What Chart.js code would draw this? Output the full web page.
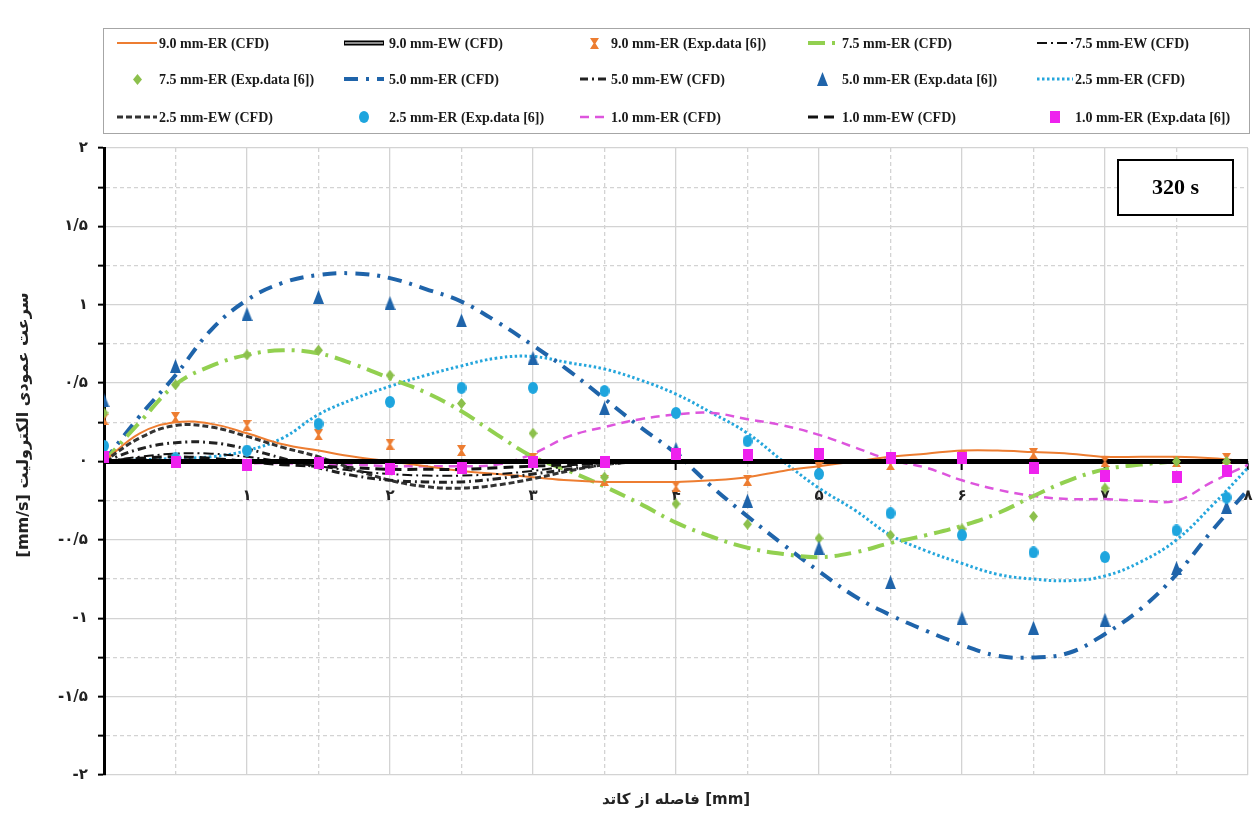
<!DOCTYPE html>
<html>
<head>
<meta charset="utf-8">
<script src="https://cdn.jsdelivr.net/npm/chart.js@4.4.0/dist/chart.umd.min.js"></script>
<style>
  html, body { margin: 0; padding: 0; background: #ffffff; }
  #wrap { width: 1255px; height: 813px; position: relative; }
</style>
</head>
<body>
<div id="wrap"><canvas id="chart" width="1255" height="813"></canvas></div>
<script>
// Distance from the cathode [mm] for the CFD profiles and for the measured points
const CFD_X = [0, 0.25, 0.5, 0.75, 1, 1.25, 1.5, 1.75, 2, 2.25, 2.5, 2.75, 3, 3.25, 3.5, 3.75, 4,
               4.25, 4.5, 4.75, 5, 5.25, 5.5, 5.75, 6, 6.25, 6.5, 6.75, 7, 7.25, 7.5, 7.75, 8];
const EXP_X = [0, 0.5, 1, 1.5, 2, 2.5, 3, 3.5, 4, 4.5, 5, 5.5, 6, 6.5, 7, 7.5, 7.85];

// Vertical electrolyte velocity [mm/s], CFD, electrode ER
const ER90_CFD = [0, 0.18, 0.25, 0.24, 0.18, 0.11, 0.07, 0.03, 0.0, -0.03, -0.06, -0.08, -0.10, -0.12, -0.13, -0.13, -0.13,
                  -0.12, -0.10, -0.06, -0.03, 0.0, 0.03, 0.05, 0.07, 0.07, 0.06, 0.05, 0.03, 0.03, 0.03, 0.02, 0.0];
const ER75_CFD = [0, 0.25, 0.49, 0.61, 0.68, 0.71, 0.69, 0.62, 0.53, 0.44, 0.32, 0.17, 0.03, -0.06, -0.16, -0.27, -0.39,
                  -0.48, -0.55, -0.59, -0.61, -0.58, -0.52, -0.47, -0.41, -0.33, -0.22, -0.12, -0.05, -0.02, 0.0, 0.0, 0.0];
const ER50_CFD = [0, 0.29, 0.55, 0.84, 1.03, 1.14, 1.19, 1.20, 1.17, 1.10, 1.02, 0.89, 0.74, 0.58, 0.40, 0.22, 0.05,
                  -0.16, -0.35, -0.53, -0.70, -0.86, -0.98, -1.08, -1.17, -1.24, -1.25, -1.22, -1.10, -0.94, -0.72, -0.44, -0.18];
const ER25_CFD = [0, 0.01, 0.02, 0.03, 0.07, 0.15, 0.30, 0.40, 0.48, 0.55, 0.61, 0.66, 0.67, 0.63, 0.59, 0.52, 0.43,
                  0.31, 0.18, 0.0, -0.17, -0.31, -0.47, -0.57, -0.65, -0.72, -0.75, -0.76, -0.73, -0.64, -0.50, -0.28, -0.04];
const ER10_CFD = [0, 0.0, 0.01, 0.0, -0.01, -0.01, -0.02, -0.02, -0.03, -0.03, -0.03, -0.02, 0.05, 0.16, 0.22, 0.27, 0.30,
                  0.31, 0.27, 0.23, 0.17, 0.09, 0.01, -0.04, -0.12, -0.18, -0.22, -0.24, -0.24, -0.25, -0.25, -0.13, -0.02];

// Vertical electrolyte velocity [mm/s], CFD, electrode EW
const EW90_CFD = [0, 0, 0, 0, 0, 0, 0, 0, 0, 0, 0, 0, 0, 0, 0, 0, 0,
                  0, 0, 0, 0, 0, 0, 0, 0, 0, 0, 0, 0, 0, 0, 0, 0];
const EW75_CFD = [0, 0.03, 0.05, 0.05, 0.03, 0.0, -0.03, -0.06, -0.08, -0.09, -0.09, -0.08, -0.06, -0.03, -0.01, 0, 0,
                  0, 0, 0, 0, 0, 0, 0, 0, 0, 0, 0, 0, 0, 0, 0, 0];
const EW50_CFD = [0, 0.08, 0.12, 0.12, 0.08, 0.02, -0.04, -0.09, -0.12, -0.13, -0.13, -0.11, -0.08, -0.05, -0.02, 0, 0,
                  0, 0, 0, 0, 0, 0, 0, 0, 0, 0, 0, 0, 0, 0, 0, 0];
const EW25_CFD = [0, 0.15, 0.23, 0.22, 0.16, 0.09, 0.03, -0.05, -0.12, -0.16, -0.17, -0.15, -0.11, -0.06, -0.02, 0, 0,
                  0, 0, 0, 0, 0, 0, 0, 0, 0, 0, 0, 0, 0, 0, 0, 0];
const EW10_CFD = [0, 0.02, 0.03, 0.02, 0.0, -0.02, -0.03, -0.04, -0.05, -0.05, -0.05, -0.04, -0.03, -0.02, -0.01, 0, 0,
                  0, 0, 0, 0, 0, 0, 0, 0, 0, 0, 0, 0, 0, 0, 0, 0];

// Measured vertical velocity [mm/s], electrode ER (Exp.data [6])
const ER90_EXP = [0.27, 0.28, 0.23, 0.17, 0.11, 0.07, 0.02, -0.12, -0.16, -0.12, -0.04, -0.02, 0.03, 0.05, 0.0, 0.0, 0.02];
const ER75_EXP = [0.31, 0.49, 0.68, 0.71, 0.55, 0.37, 0.18, -0.10, -0.27, -0.40, -0.49, -0.47, -0.43, -0.35, -0.17, 0.0, 0.0];
const ER50_EXP = [0.39, 0.61, 0.94, 1.05, 1.01, 0.90, 0.66, 0.34, 0.08, -0.25, -0.55, -0.77, -1.0, -1.06, -1.01, -0.68, -0.29];
const ER25_EXP = [0.10, 0.02, 0.07, 0.24, 0.38, 0.47, 0.47, 0.45, 0.31, 0.13, -0.08, -0.33, -0.47, -0.58, -0.61, -0.44, -0.23];
const ER10_EXP = [0.03, 0.0, -0.02, -0.01, -0.05, -0.04, 0.0, 0.0, 0.05, 0.04, 0.05, 0.02, 0.02, -0.04, -0.09, -0.10, -0.06];

// Legend names, in legend order (row by row)
const SERIES_NAMES = [
  '9.0 mm-ER (CFD)', '9.0 mm-EW (CFD)', '9.0 mm-ER (Exp.data [6])', '7.5 mm-ER (CFD)', '7.5 mm-EW (CFD)',
  '7.5 mm-ER (Exp.data [6])', '5.0 mm-ER (CFD)', '5.0 mm-EW (CFD)', '5.0 mm-ER (Exp.data [6])', '2.5 mm-ER (CFD)',
  '2.5 mm-EW (CFD)', '2.5 mm-ER (Exp.data [6])', '1.0 mm-ER (CFD)', '1.0 mm-EW (CFD)', '1.0 mm-ER (Exp.data [6])'
];

// Axis tick labels
const X_TICK_LABELS = ['۱', '۲', '۳', '۴', '۵', '۶', '۷', '۸'];
const Y_TICK_LABELS = ['-۲', '-۱/۵', '-۱', '-۰/۵', '۰', '۰/۵', '۱', '۱/۵', '۲'];

const X_TITLE = 'فاصله از کاتد [mm]';
const Y_TITLE = 'سرعت عمودی الکترولیت [mm/s]';
const TIME_LABEL = '320 s';

// ---------- marker images ----------
function markerCanvas(w, h, color, draw) {
  const c = document.createElement('canvas');
  c.width = w; c.height = h;
  const g = c.getContext('2d');
  g.fillStyle = color;
  g.beginPath();
  draw(g, w, h);
  g.fill();
  return c;
}
const HOURGLASS = markerCanvas(9, 11, '#ed7d31', (g, w, h) => {
  g.moveTo(0, 0); g.lineTo(w, 0); g.lineTo(w / 2 + 1, h / 2); g.lineTo(w, h);
  g.lineTo(0, h); g.lineTo(w / 2 - 1, h / 2); g.closePath();
});
const DIAMOND = markerCanvas(9, 11, '#8cc04c', (g, w, h) => {
  g.moveTo(w / 2, 0); g.lineTo(w, h / 2); g.lineTo(w / 2, h); g.lineTo(0, h / 2); g.closePath();
});
const TRIANGLE = markerCanvas(11, 14, '#1f64aa', (g, w, h) => {
  g.moveTo(w / 2, 0); g.lineTo(w, h); g.lineTo(0, h); g.closePath();
});
const ELLIPSE = markerCanvas(10, 12, '#1ea5de', (g, w, h) => {
  g.ellipse(w / 2, h / 2, w / 2, h / 2, 0, 0, Math.PI * 2);
});
const SQUARE = markerCanvas(10, 12, '#ee22ee', (g, w, h) => {
  g.rect(0, 0, w, h);
});

function pts(xs, ys) { return xs.map((x, i) => ({ x: x, y: ys[i] })); }

function cfd(label, ys, color, width, dash, order) {
  return {
    label: label, data: pts(CFD_X, ys), showLine: true, pointRadius: 0, pointHoverRadius: 0,
    borderColor: color, backgroundColor: color, borderWidth: width, borderDash: dash,
    tension: 0.4, fill: false, order: order
  };
}
function exp(label, ys, img, order) {
  return {
    label: label, data: pts(EXP_X, ys), showLine: false, pointStyle: img, pointRadius: 6,
    borderColor: 'rgba(0,0,0,0)', backgroundColor: 'rgba(0,0,0,0)', order: order
  };
}

const datasets = [
  cfd(SERIES_NAMES[0], ER90_CFD, '#ed7d31', 2, [], 12),
  cfd(SERIES_NAMES[1], EW90_CFD, '#000000', 5, [], 10),
  exp(SERIES_NAMES[2], ER90_EXP, HOURGLASS, 5),
  cfd(SERIES_NAMES[3], ER75_CFD, '#92d050', 4, [17, 7, 3, 7], 13),
  cfd(SERIES_NAMES[4], EW75_CFD, '#111111', 2, [10, 4, 2, 4], 11),
  exp(SERIES_NAMES[5], ER75_EXP, DIAMOND, 4),
  cfd(SERIES_NAMES[6], ER50_CFD, '#1f64aa', 4, [14, 8, 3, 8], 14),
  cfd(SERIES_NAMES[7], EW50_CFD, '#222222', 3, [8, 4, 2, 4], 11),
  exp(SERIES_NAMES[8], ER50_EXP, TRIANGLE, 3),
  cfd(SERIES_NAMES[9], ER25_CFD, '#25a6dc', 3, [2.5, 2.5], 14),
  cfd(SERIES_NAMES[10], EW25_CFD, '#333333', 3, [6, 3], 11),
  exp(SERIES_NAMES[11], ER25_EXP, ELLIPSE, 2),
  cfd(SERIES_NAMES[12], ER10_CFD, '#dd55dd', 2.5, [9, 6], 13),
  cfd(SERIES_NAMES[13], EW10_CFD, '#111111', 3, [10, 6], 11),
  exp(SERIES_NAMES[14], ER10_EXP, SQUARE, 1)
];

const isInt = v => Math.abs(v - Math.round(v)) < 1e-6;
const isHalf = v => Math.abs(v * 2 - Math.round(v * 2)) < 1e-6;

// ---------- legend, axis titles and time box ----------
const LEG_COLS = [117, 344, 580, 808, 1037];
const LEG_SAMPLE_W = [40, 40, 28, 28, 36];
const LEG_TEXT_OFF = [42, 45, 31, 34, 38];
const LEG_ROWS = [43, 79, 117];

const decorPlugin = {
  id: 'decor',
  afterDraw(chart) {
    const ctx = chart.ctx;
    ctx.save();
    // legend frame
    ctx.strokeStyle = '#a6a6a6';
    ctx.lineWidth = 1;
    ctx.strokeRect(103.5, 28.5, 1146, 105);
    ctx.font = 'bold 14px "Liberation Serif"';
    ctx.textBaseline = 'middle';
    ctx.textAlign = 'left';
    chart.data.datasets.forEach((ds, i) => {
      const col = i % 5, row = Math.floor(i / 5);
      const x0 = LEG_COLS[col], y = LEG_ROWS[row], w = LEG_SAMPLE_W[col];
      if (ds.showLine) {
        ctx.save();
        ctx.strokeStyle = ds.borderColor;
        ctx.lineWidth = ds.borderWidth;
        ctx.setLineDash(ds.borderDash || []);
        ctx.beginPath(); ctx.moveTo(x0, y); ctx.lineTo(x0 + w, y); ctx.stroke();
        if (i === 1) {
          ctx.strokeStyle = '#8c8c8c'; ctx.lineWidth = 2;
          ctx.beginPath(); ctx.moveTo(x0 + 1, y); ctx.lineTo(x0 + w - 1, y); ctx.stroke();
        }
        ctx.restore();
      } else {
        const img = ds.pointStyle;
        ctx.drawImage(img, Math.round(x0 + w / 2 - img.width / 2), Math.round(y - img.height / 2));
      }
      ctx.fillStyle = '#1a1a1a';
      ctx.fillText(ds.label, x0 + LEG_TEXT_OFF[col], y + 1);
    });

    // time box
    ctx.fillStyle = '#ffffff';
    ctx.fillRect(1118, 160, 115, 55);
    ctx.strokeStyle = '#000000';
    ctx.lineWidth = 2;
    ctx.strokeRect(1118, 160, 115, 55);
    ctx.fillStyle = '#000000';
    ctx.font = 'bold 22px "Liberation Serif"';
    ctx.textAlign = 'center';
    ctx.textBaseline = 'middle';
    ctx.fillText(TIME_LABEL, 1175.5, 188);

    // axis titles
    ctx.font = 'bold 15px "DejaVu Sans"';
    ctx.fillStyle = '#222222';
    ctx.direction = 'ltr';
    ctx.fillText(X_TITLE, 676, 800);
    ctx.font = 'bold 16px "DejaVu Sans"';
    ctx.translate(24, 425);
    ctx.rotate(-Math.PI / 2);
    ctx.direction = 'rtl';
    ctx.textAlign = 'center';
    ctx.fillText(Y_TITLE, 0, 0);
    ctx.restore();
  }
};

new Chart(document.getElementById('chart'), {
  type: 'scatter',
  data: { datasets: datasets },
  plugins: [decorPlugin],
  options: {
    responsive: false,
    animation: false,
    layout: { padding: { top: 148, right: 6, bottom: 38, left: 0 } },
    plugins: { legend: { display: false }, tooltip: { enabled: false } },
    scales: {
      x: {
        type: 'linear',
        position: { y: 0 },
        min: 0, max: 8,
        afterFit: s => { s.paddingLeft = 0; s.paddingRight = 0; },
        ticks: {
          stepSize: 0.5, autoSkip: false, maxRotation: 0, padding: 19,
          color: '#222222',
          font: { family: 'DejaVu Sans', size: 15, weight: 'bold' },
          callback: v => (isInt(v) && v >= 1) ? X_TICK_LABELS[Math.round(v) - 1] : ''
        },
        grid: {
          color: '#d3d3d3', lineWidth: 1.3, tickLength: 7,
          tickColor: c => (c.tick && isInt(c.tick.value) && c.tick.value > 0) ? '#000000' : 'rgba(0,0,0,0)',
          tickWidth: 2
        },
        border: {
          display: true, color: '#000000', width: 2,
          dash: c => (c.tick && !isInt(c.tick.value)) ? [4, 3] : []
        }
      },
      y: {
        type: 'linear',
        position: 'left',
        min: -2, max: 2,
        afterFit: s => { s.width = 104; },
        ticks: {
          stepSize: 0.25, autoSkip: false, padding: 10,
          color: '#222222',
          font: { family: 'DejaVu Sans', size: 15, weight: 'bold' },
          callback: v => isHalf(v) ? Y_TICK_LABELS[Math.round((v + 2) * 2)] : ''
        },
        grid: {
          color: '#d3d3d3', lineWidth: 1.3, tickLength: 6, tickColor: '#000000', tickWidth: 2
        },
        border: {
          display: true, color: '#000000', width: 3,
          dash: c => (c.tick && !isHalf(c.tick.value)) ? [4, 3] : []
        }
      }
    }
  }
});
</script>
</body>
</html>
